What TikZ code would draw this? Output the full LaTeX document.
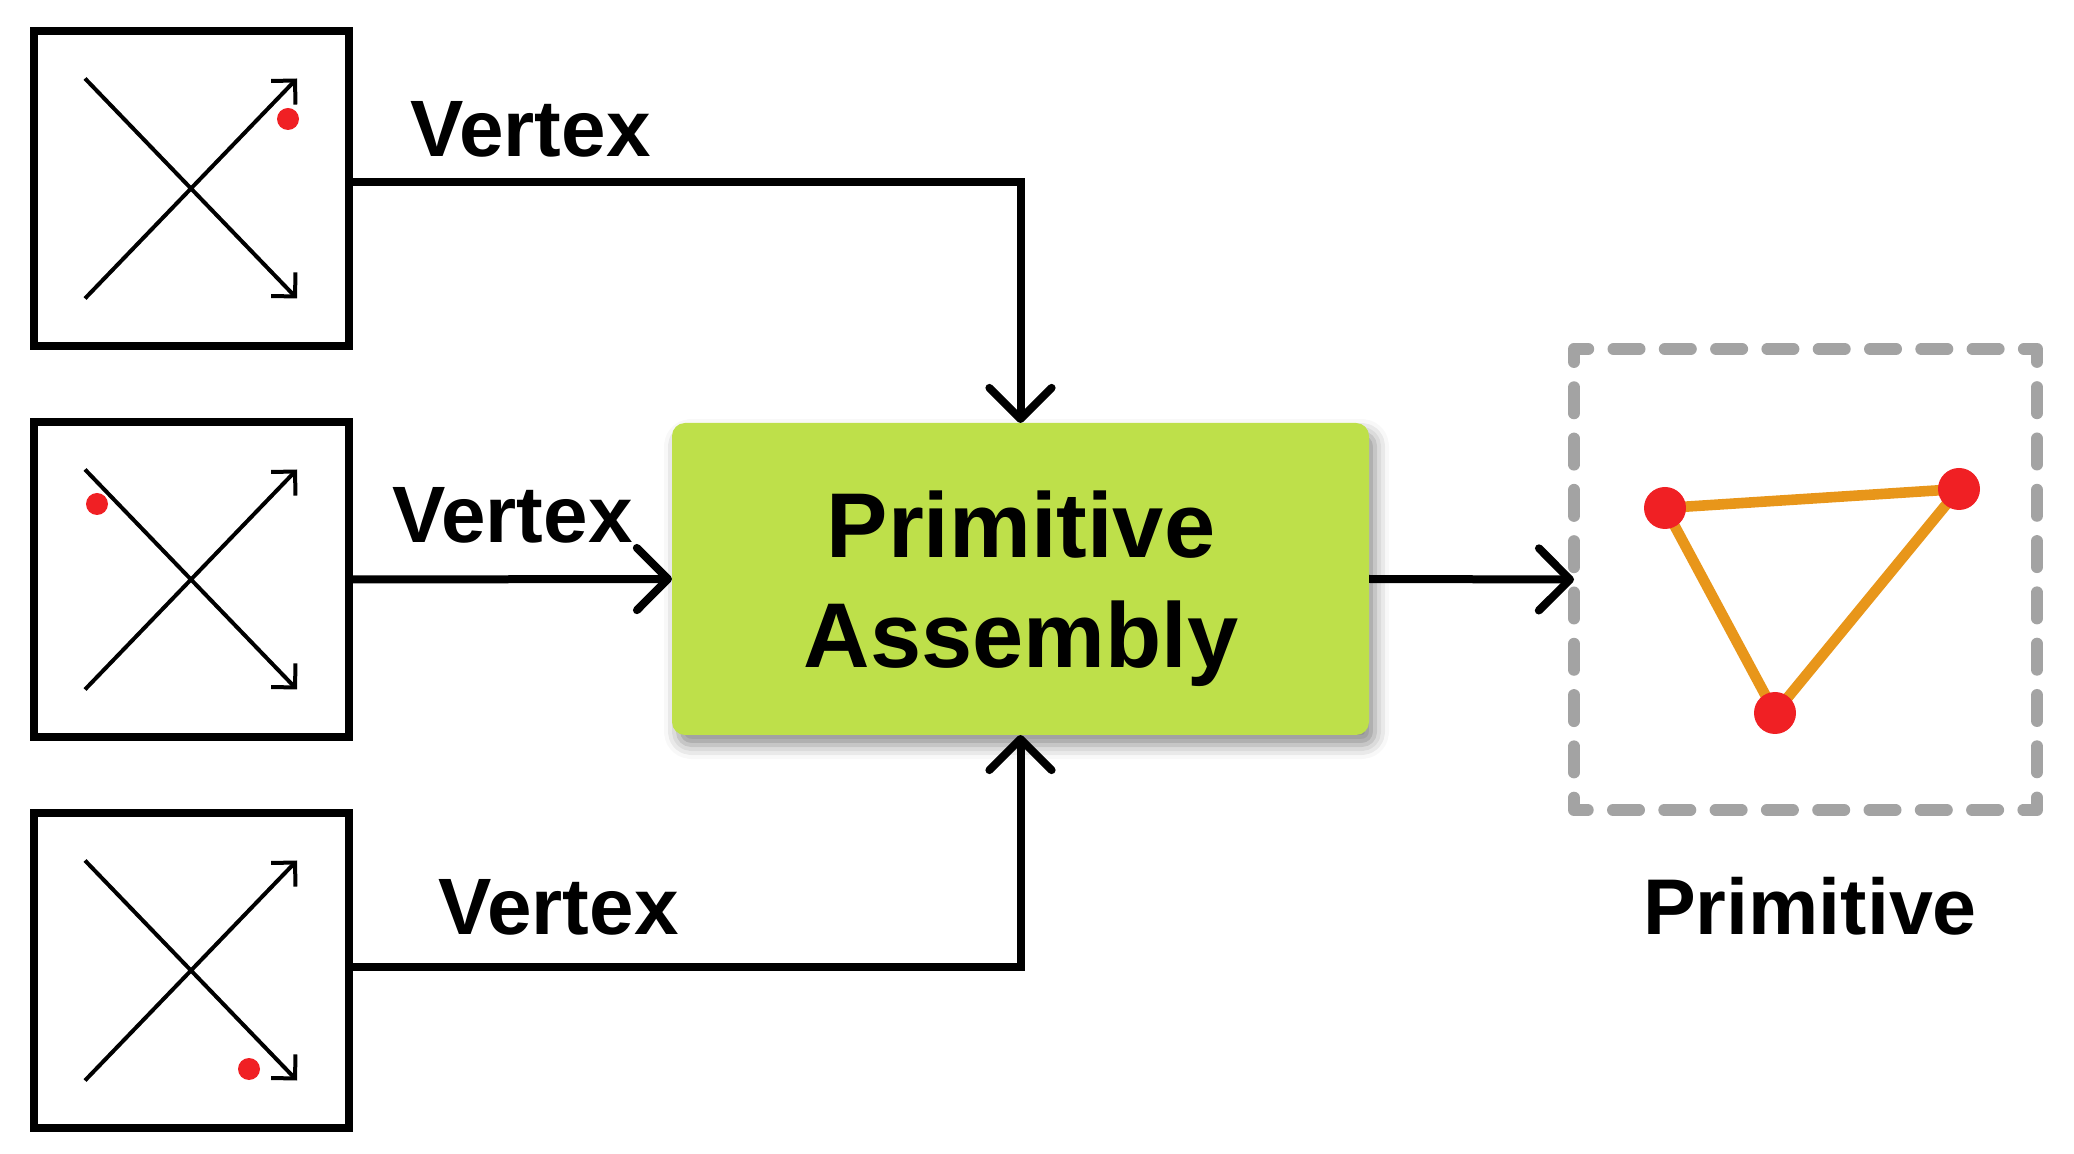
\documentclass[tikz,border=0pt]{standalone}
\usepackage{fontspec}
\setmainfont{Liberation Sans}
\usetikzlibrary{arrows.meta,shadows.blur}
\definecolor{lime}{RGB}{190,224,74}
\definecolor{dotred}{RGB}{240,32,36}
\definecolor{triorange}{RGB}{232,150,26}
\definecolor{dashgray}{RGB}{163,163,163}
\tikzset{
  vbox/.style={draw=black, line width=4pt, minimum size=157.5pt, inner sep=0pt, outer sep=0pt},
  xline/.style={line width=2pt, -{Straight Barb[angle=90:12pt]}},
  vdot/.style={fill=dotred, draw=none},
  conn/.style={line width=4pt, line join=miter, -{Straight Barb[angle=90:22pt,round]}},
  vlabel/.style={font=\fontsize{40pt}{48pt}\selectfont\bfseries, inner sep=0pt},
  palabel/.style={font=\fontsize{46pt}{55pt}\selectfont\bfseries, inner sep=0pt},
  pabox/.style={fill=lime, rounded corners=6.5pt, minimum width=348.5pt, minimum height=156pt, inner sep=0pt, outer sep=0pt,
    blur shadow={shadow xshift=3pt, shadow yshift=-5pt, shadow opacity=45, shadow blur radius=7pt}},
  dashbox/.style={draw=dashgray, line width=6pt, line cap=round, line join=round, dash pattern=on 13pt off 12.65pt, dash phase=6.5pt},
  tri/.style={draw=triorange, line width=5.3pt, line join=round},
}
\begin{document}
\begin{tikzpicture}[x=0.5pt,y=-0.5pt]
\useasboundingbox (0,0) rectangle (2074,1154);

% input boxes
\node[vbox] (b1) at (191,188.5) {};
\node[vbox] (b2) at (191,579.5) {};
\node[vbox] (b3) at (191,970.5) {};

\foreach \b/\dx/\dy in {b1/97/-69.5, b2/-94/-75.5, b3/58/98.5}{
  \begin{scope}[shift={(\b.center)}]
    \draw[xline] (-106,-110) -- (106,110);
    \draw[xline] (-106,110) -- (106,-110);
    \fill[vdot] (\dx,\dy) circle (5.5pt);
  \end{scope}
}

% primitive assembly box
\node[pabox] (pa) at (1020.5,579) {};
\node[palabel, anchor=base] (pa1) at (1021,557.7) {Primitive};
\node[palabel, anchor=base] (pa2) at (1021,667.7) {Assembly};

% output primitive
\node[minimum width=231.5pt, minimum height=230.5pt, inner sep=0pt, outer sep=0pt] (prim) at (1805.5,579.5) {};
\draw[dashbox] (prim.north west) rectangle (prim.south east);
\coordinate (t1) at (1665,508);
\coordinate (t2) at (1959,489);
\coordinate (t3) at (1775,713);
\draw[tri] (t1) -- (t2) -- (t3) -- cycle;
\foreach \t in {t1,t2,t3}{\fill[vdot] (\t) circle (10.5pt);}
\node[vlabel, anchor=base, font=\fontsize{39.5pt}{48pt}\selectfont\bfseries] (plab) at (1810,935) {Primitive};

% connectors
\draw[conn] ([yshift=3pt]b1.east) -| (pa.north);
\draw[conn] (b2.east) -- (pa.west);
\draw[conn] ([yshift=1.75pt]b3.east) -| (pa.south);
\draw[conn] (pa.east) -- (prim.west);

% labels
\node[vlabel, anchor=base west] (v1) at (410,157) {Vertex};
\node[vlabel, anchor=base west] (v2) at (392,543) {Vertex};
\node[vlabel, anchor=base west] (v3) at (438,935) {Vertex};
\end{tikzpicture}
\end{document}
